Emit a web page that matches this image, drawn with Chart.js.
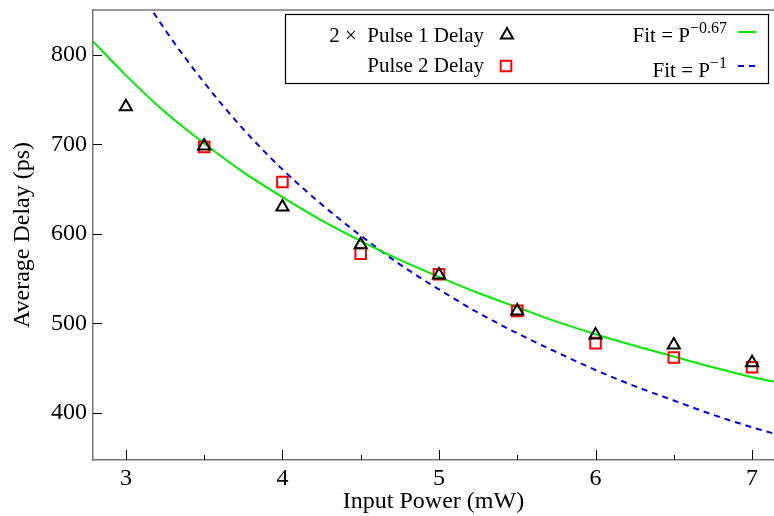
<!DOCTYPE html>
<html>
<head>
<meta charset="utf-8">
<script src="https://cdn.jsdelivr.net/npm/chart.js@4.4.1/dist/chart.umd.min.js"></script>
<style>
  html, body { margin: 0; padding: 0; background: #fff; }
</style>
</head>
<body>
<canvas id="delayChart" width="774" height="516"></canvas>
<script>
// measured points
const power = [3, 3.5, 4, 4.5, 5, 5.5, 6, 6.5, 7];
const pulse1x2 = [742, 698, 630, 588, 554, 514, 487, 476, 456];
const power2 = [3.5, 4, 4.5, 5, 5.5, 6, 6.5, 7];
const pulse2 = [697, 658, 578, 555, 514, 478, 462, 451];

// fit curves
const fitPower = [2.79, 3, 3.25, 3.5, 3.75, 4, 4.25, 4.5, 4.75, 5, 5.25, 5.5, 5.75, 6, 6.25, 6.5, 6.75, 7, 7.14];
const fit067 = [815, 777, 736, 701, 669, 641, 615, 592, 571, 552, 534, 518, 502, 488, 475, 463, 451, 440, 435];
const fit1 = [964, 897, 828, 769, 717, 672, 633, 598, 566, 538, 512, 489, 468, 448, 430, 414, 398, 384, 377];

const xTicks = [3, 4, 5, 6, 7];
const xMinorTicks = [3.5, 4.5, 5.5, 6.5];
const yTicks = [400, 500, 600, 700, 800];

const serif = "'Liberation Serif', 'Times New Roman', serif";
const axisFont = { family: serif, size: 24 };

const toXY = (xs, ys) => xs.map((x, i) => ({ x: x, y: ys[i] }));

// no extra room for edge labels, chart area goes to the canvas edge
const noPad = (s) => {
  s.paddingTop = 0;
  s.paddingBottom = 0;
  s.paddingLeft = 0;
  s.paddingRight = 0;
};

// inward tick marks + top frame line
const tickMarks = {
  id: "tickMarks",
  afterDatasetsDraw(chart) {
    const { ctx, chartArea, scales } = chart;
    const line = (x1, y1, x2, y2) => {
      ctx.beginPath();
      ctx.moveTo(x1, y1);
      ctx.lineTo(x2, y2);
      ctx.stroke();
    };
    ctx.save();
    ctx.strokeStyle = "#000";
    ctx.lineWidth = 1;
    xTicks.forEach((v) => {
      const px = Math.round(scales.x.getPixelForValue(v)) + 0.5;
      line(px, chartArea.bottom, px, chartArea.bottom - 10);
    });
    xMinorTicks.forEach((v) => {
      const px = Math.round(scales.x.getPixelForValue(v)) + 0.5;
      line(px, chartArea.bottom, px, chartArea.bottom - 5);
    });
    yTicks.forEach((v) => {
      const py = Math.round(scales.y.getPixelForValue(v)) + 0.5;
      line(chartArea.left, py, chartArea.left + 9, py);
    });
    ctx.strokeStyle = "#777";
    ctx.lineWidth = 1.5;
    line(chartArea.left, chartArea.top, chartArea.right, chartArea.top);
    ctx.restore();
  },
};

// boxed two column legend
const legendBox = {
  id: "legendBox",
  afterDraw(chart) {
    const ctx = chart.ctx;
    ctx.save();
    ctx.fillStyle = "#fff";
    ctx.fillRect(285, 14, 483, 69);
    ctx.strokeStyle = "#000";
    ctx.lineWidth = 1.2;
    ctx.strokeRect(285.5, 14.5, 483, 69);

    ctx.fillStyle = "#000";
    ctx.textBaseline = "alphabetic";
    ctx.textAlign = "right";
    ctx.font = "21px " + serif;
    ctx.fillText("2 ×  Pulse 1 Delay", 484, 42);
    ctx.fillText("Pulse 2 Delay", 484, 72);

    const sup = (main, exp, x, y) => {
      ctx.font = "16px " + serif;
      const w = ctx.measureText(exp).width;
      ctx.fillText(exp, x, y - 9);
      ctx.font = "21px " + serif;
      ctx.fillText(main, x - w, y);
    };
    sup("Fit = P", "\u22120.67", 727, 42);
    sup("Fit = P", "\u22121", 727, 77);

    ctx.fillStyle = "rgba(0,0,0,0)";
    ctx.strokeStyle = "#000";
    ctx.lineWidth = 2;
    Chart.helpers.drawPoint(ctx, { pointStyle: "triangle", radius: 7, rotation: 0, borderWidth: 2 }, 507, 35);
    ctx.strokeStyle = "#f00";
    Chart.helpers.drawPoint(ctx, { pointStyle: "rect", radius: 7.5, rotation: 0, borderWidth: 2 }, 506, 66);

    ctx.lineWidth = 2;
    ctx.strokeStyle = "rgb(0,235,0)";
    ctx.beginPath();
    ctx.moveTo(738, 32);
    ctx.lineTo(756, 32);
    ctx.stroke();
    ctx.strokeStyle = "#0000ee";
    ctx.setLineDash([6, 5]);
    ctx.beginPath();
    ctx.moveTo(738, 66);
    ctx.lineTo(756, 66);
    ctx.stroke();
    ctx.restore();
  },
};

new Chart(document.getElementById("delayChart").getContext("2d"), {
  type: "line",
  data: {
    datasets: [
      {
        label: "2 × Pulse 1 Delay",
        data: toXY(power, pulse1x2),
        showLine: false,
        pointStyle: "triangle",
        pointRadius: 7,
        pointBorderWidth: 2,
        borderColor: "#000",
        backgroundColor: "rgba(0,0,0,0)",
      },
      {
        label: "Pulse 2 Delay",
        data: toXY(power2, pulse2),
        showLine: false,
        pointStyle: "rect",
        pointRadius: 7.5,
        pointBorderWidth: 2,
        borderColor: "#f00",
        backgroundColor: "rgba(0,0,0,0)",
      },
      {
        label: "Fit = P^-0.67",
        data: toXY(fitPower, fit067),
        borderColor: "rgb(0,235,0)",
        borderWidth: 2,
        pointRadius: 0,
        cubicInterpolationMode: "monotone",
      },
      {
        label: "Fit = P^-1",
        data: toXY(fitPower, fit1),
        borderColor: "#0000ee",
        borderWidth: 2,
        borderDash: [6, 5],
        pointRadius: 0,
        cubicInterpolationMode: "monotone",
      },
    ],
  },
  options: {
    responsive: false,
    animation: false,
    layout: { autoPadding: false, padding: { top: 10, right: 0, left: 0, bottom: 0 } },
    plugins: { legend: { display: false }, tooltip: { enabled: false } },
    scales: {
      x: {
        type: "linear",
        min: 2.79,
        max: 7.14,
        afterBuildTicks: (s) => {
          s.ticks = xTicks.map((v) => ({ value: v }));
        },
        afterFit: (s) => {
          s.height = 56;
          noPad(s);
        },
        grid: { display: false, drawTicks: false },
        border: { color: "#777", width: 1.5 },
        ticks: { font: axisFont, color: "#000", padding: 4, maxRotation: 0 },
        title: { display: true, text: "Input Power (mW)", font: axisFont, color: "#000", padding: 0 },
      },
      y: {
        type: "linear",
        min: 347.5,
        max: 850,
        afterBuildTicks: (s) => {
          s.ticks = yTicks.map((v) => ({ value: v }));
        },
        afterFit: (s) => {
          s.width = 93;
          noPad(s);
        },
        grid: { display: false, drawTicks: false },
        border: { color: "#777", width: 1.5 },
        ticks: { font: axisFont, color: "#000", padding: 6 },
        title: { display: true, text: "Average Delay (ps)", font: axisFont, color: "#000", padding: { top: 8, bottom: 0 } },
      },
    },
  },
  plugins: [tickMarks, legendBox],
});
</script>
</body>
</html>
